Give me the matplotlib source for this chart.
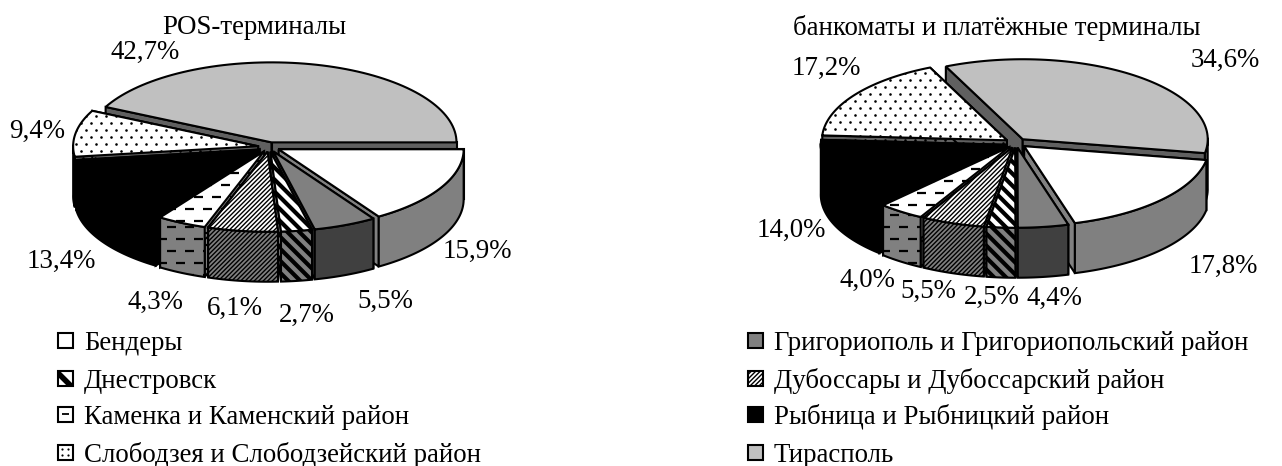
import numpy as np
import matplotlib
matplotlib.use("Agg")
import matplotlib.pyplot as plt
from matplotlib.patches import Polygon, Rectangle
from matplotlib.collections import LineCollection

plt.rcParams['font.family'] = ['Liberation Serif', 'DejaVu Serif']

regions = ["Бендеры", "Григориополь и Григориопольский район", "Днестровск",
           "Дубоссары и Дубоссарский район", "Каменка и Каменский район",
           "Рыбница и Рыбницкий район", "Слободзея и Слободзейский район", "Тирасполь"]
pos_share = [15.9, 5.5, 2.7, 6.1, 4.3, 13.4, 9.4, 42.7]
atm_share = [17.8, 4.4, 2.5, 5.5, 4.0, 14.0, 17.2, 34.6]
pos_title = "POS-терминалы"
atm_title = "банкоматы и платёжные терминалы"

# top colour, wall colour, pattern
styles = [("#ffffff", "#808080", None),
          ("#808080", "#404040", None),
          ("#ffffff", "#808080", "wide"),
          ("#ffffff", "#808080", "thin"),
          ("#ffffff", "#808080", "dash"),
          ("#000000", "#000000", None),
          ("#ffffff", "#606060", "dots"),
          ("#c0c0c0", "#606060", None)]

RX, RY, DEPTH, EXPL = 185, 80, 50, 11
EDGE = 1.5
FONT = 19.4

fig = plt.figure(figsize=(12.82, 4.66), dpi=100)
ax = fig.add_axes([0, 0, 1, 1])
ax.set_xlim(0, 1282)
ax.set_ylim(466, 0)
ax.axis("off")


def pattern(poly, kind, x0, x1, y0, y1, z):
    # pattern lines are clipped to the polygon they belong to
    if kind == "wide":
        segs = [[(x, y0), (x + (y1 - y0), y1)] for x in np.arange(x0 - (y1 - y0), x1, 12)]
        art = LineCollection(segs, colors="k", linewidths=3, zorder=z)
    elif kind == "thin":
        segs = [[(x, y1), (x + (y1 - y0), y0)] for x in np.arange(x0 - (y1 - y0), x1, 4.5)]
        art = LineCollection(segs, colors="k", linewidths=1, zorder=z)
    elif kind == "dash":
        segs = []
        for i, y in enumerate(np.arange(y0, y1, 12)):
            for x in np.arange(x0 + 9 * (i % 2), x1, 18):
                segs.append([(x, y), (x + 9, y)])
        art = LineCollection(segs, colors="k", linewidths=1.6, zorder=z)
    elif kind == "dots":
        xs, ys = [], []
        for i, y in enumerate(np.arange(y0, y1, 7)):
            for x in np.arange(x0 + 5 * (i % 2), x1, 10):
                xs.append(x)
                ys.append(y)
        art = ax.scatter(xs, ys, s=3.5, c="k", linewidths=0, zorder=z)
    else:
        return
    if kind != "dots":
        ax.add_collection(art)
    art.set_clip_path(poly)


def face(pts, color, kind, z):
    pts = np.array(pts)
    poly = Polygon(pts, closed=True, facecolor=color, edgecolor="none", zorder=z)
    ax.add_patch(poly)
    pattern(poly, kind, pts[:, 0].min() - 2, pts[:, 0].max() + 2, pts[:, 1].min() - 2, pts[:, 1].max() + 2, z + 0.1)
    ax.add_patch(Polygon(pts, closed=True, fill=False, edgecolor="k", linewidth=EDGE, zorder=z + 0.2))


def draw_pie(shares, cx, cy, start):
    sweeps = np.array(shares) / np.sum(shares) * 360
    ends = start - np.cumsum(sweeps)
    starts = ends + sweeps
    mids = (starts + ends) / 2
    order = np.argsort(-np.sin(np.radians(mids)))
    z = 2
    for i in order:
        top, wall, kind = styles[i]
        m = np.radians(mids[i])
        tx = cx + EXPL * np.cos(m)
        ty = cy - EXPL * RY / RX * np.sin(m)
        a = np.radians(np.linspace(starts[i], ends[i], 80))
        arc = np.column_stack([tx + RX * np.cos(a), ty - RY * np.sin(a)])
        tip = (tx, ty)
        down = np.array([0, DEPTH])
        # radial faces, then the outer wall, then the top
        for p in (arc[0], arc[-1]):
            face([tip, p, p + down, np.array(tip) + down], wall, kind, z)
            z += 1
        front = arc[np.sin(a) < 0.02]
        if len(front) > 1:
            face(np.vstack([front, (front + down)[::-1]]), wall, kind, z)
            z += 1
        face(np.vstack([[tip], arc]), top, kind, z)
        z += 1


def legend_entry(x, y, i):
    top, wall, kind = styles[i]
    rect = Rectangle((x, y - 7.5), 15, 15, facecolor=top, edgecolor="none", zorder=2)
    ax.add_patch(rect)
    if kind == "wide":
        segs = [[(x - 4, y - 9), (x + 14, y + 9)]]
        art = LineCollection(segs, colors="k", linewidths=4, zorder=3)
        ax.add_collection(art)
        art.set_clip_path(rect)
    elif kind == "thin":
        segs = [[(x + d, y + 8), (x + d + 16, y - 8)] for d in np.arange(-16, 16, 4.5)]
        art = LineCollection(segs, colors="k", linewidths=1, zorder=3)
        ax.add_collection(art)
        art.set_clip_path(rect)
    elif kind == "dash":
        ax.add_collection(LineCollection([[(x + 4, y), (x + 11, y)]], colors="k", linewidths=1.3, zorder=3))
    elif kind == "dots":
        ax.scatter([x + 4, x + 10, x + 4, x + 10], [y - 3, y - 3, y + 3, y + 3], s=2.5, c="k", linewidths=0, zorder=3)
    ax.add_patch(Rectangle((x, y - 7.5), 15, 15, fill=False, edgecolor="k", linewidth=1.5, zorder=4))
    ax.text(x + 26, y + 3, regions[i], fontsize=FONT, va="center", ha="left", color="k")


draw_pie(pos_share, 269, 147, 0)
draw_pie(atm_share, 1016, 143, -10)

ax.text(254, 28, pos_title, fontsize=FONT, ha="center", va="center")
ax.text(997, 28, atm_title, fontsize=FONT, ha="center", va="center")

pos_spots = [(477, 251), (385, 301), (307, 315), (235, 308), (155, 302), (61, 261), (37, 131), (145, 52)]
atm_spots = [(1223, 266), (1054, 298), (992, 297), (928, 291), (867, 280), (791, 230), (826, 68), (1225, 60)]
for shares, spots in ((pos_share, pos_spots), (atm_share, atm_spots)):
    for v, (x, y) in zip(shares, spots):
        ax.text(x, y, f"{v:.1f}%".replace(".", ","), fontsize=FONT, ha="center", va="center")

rows = [340, 378, 414, 452]
for k, y in enumerate(rows):
    legend_entry(58, y, 2 * k)
    legend_entry(748, y, 2 * k + 1)

fig.savefig("out.png", dpi=100)
